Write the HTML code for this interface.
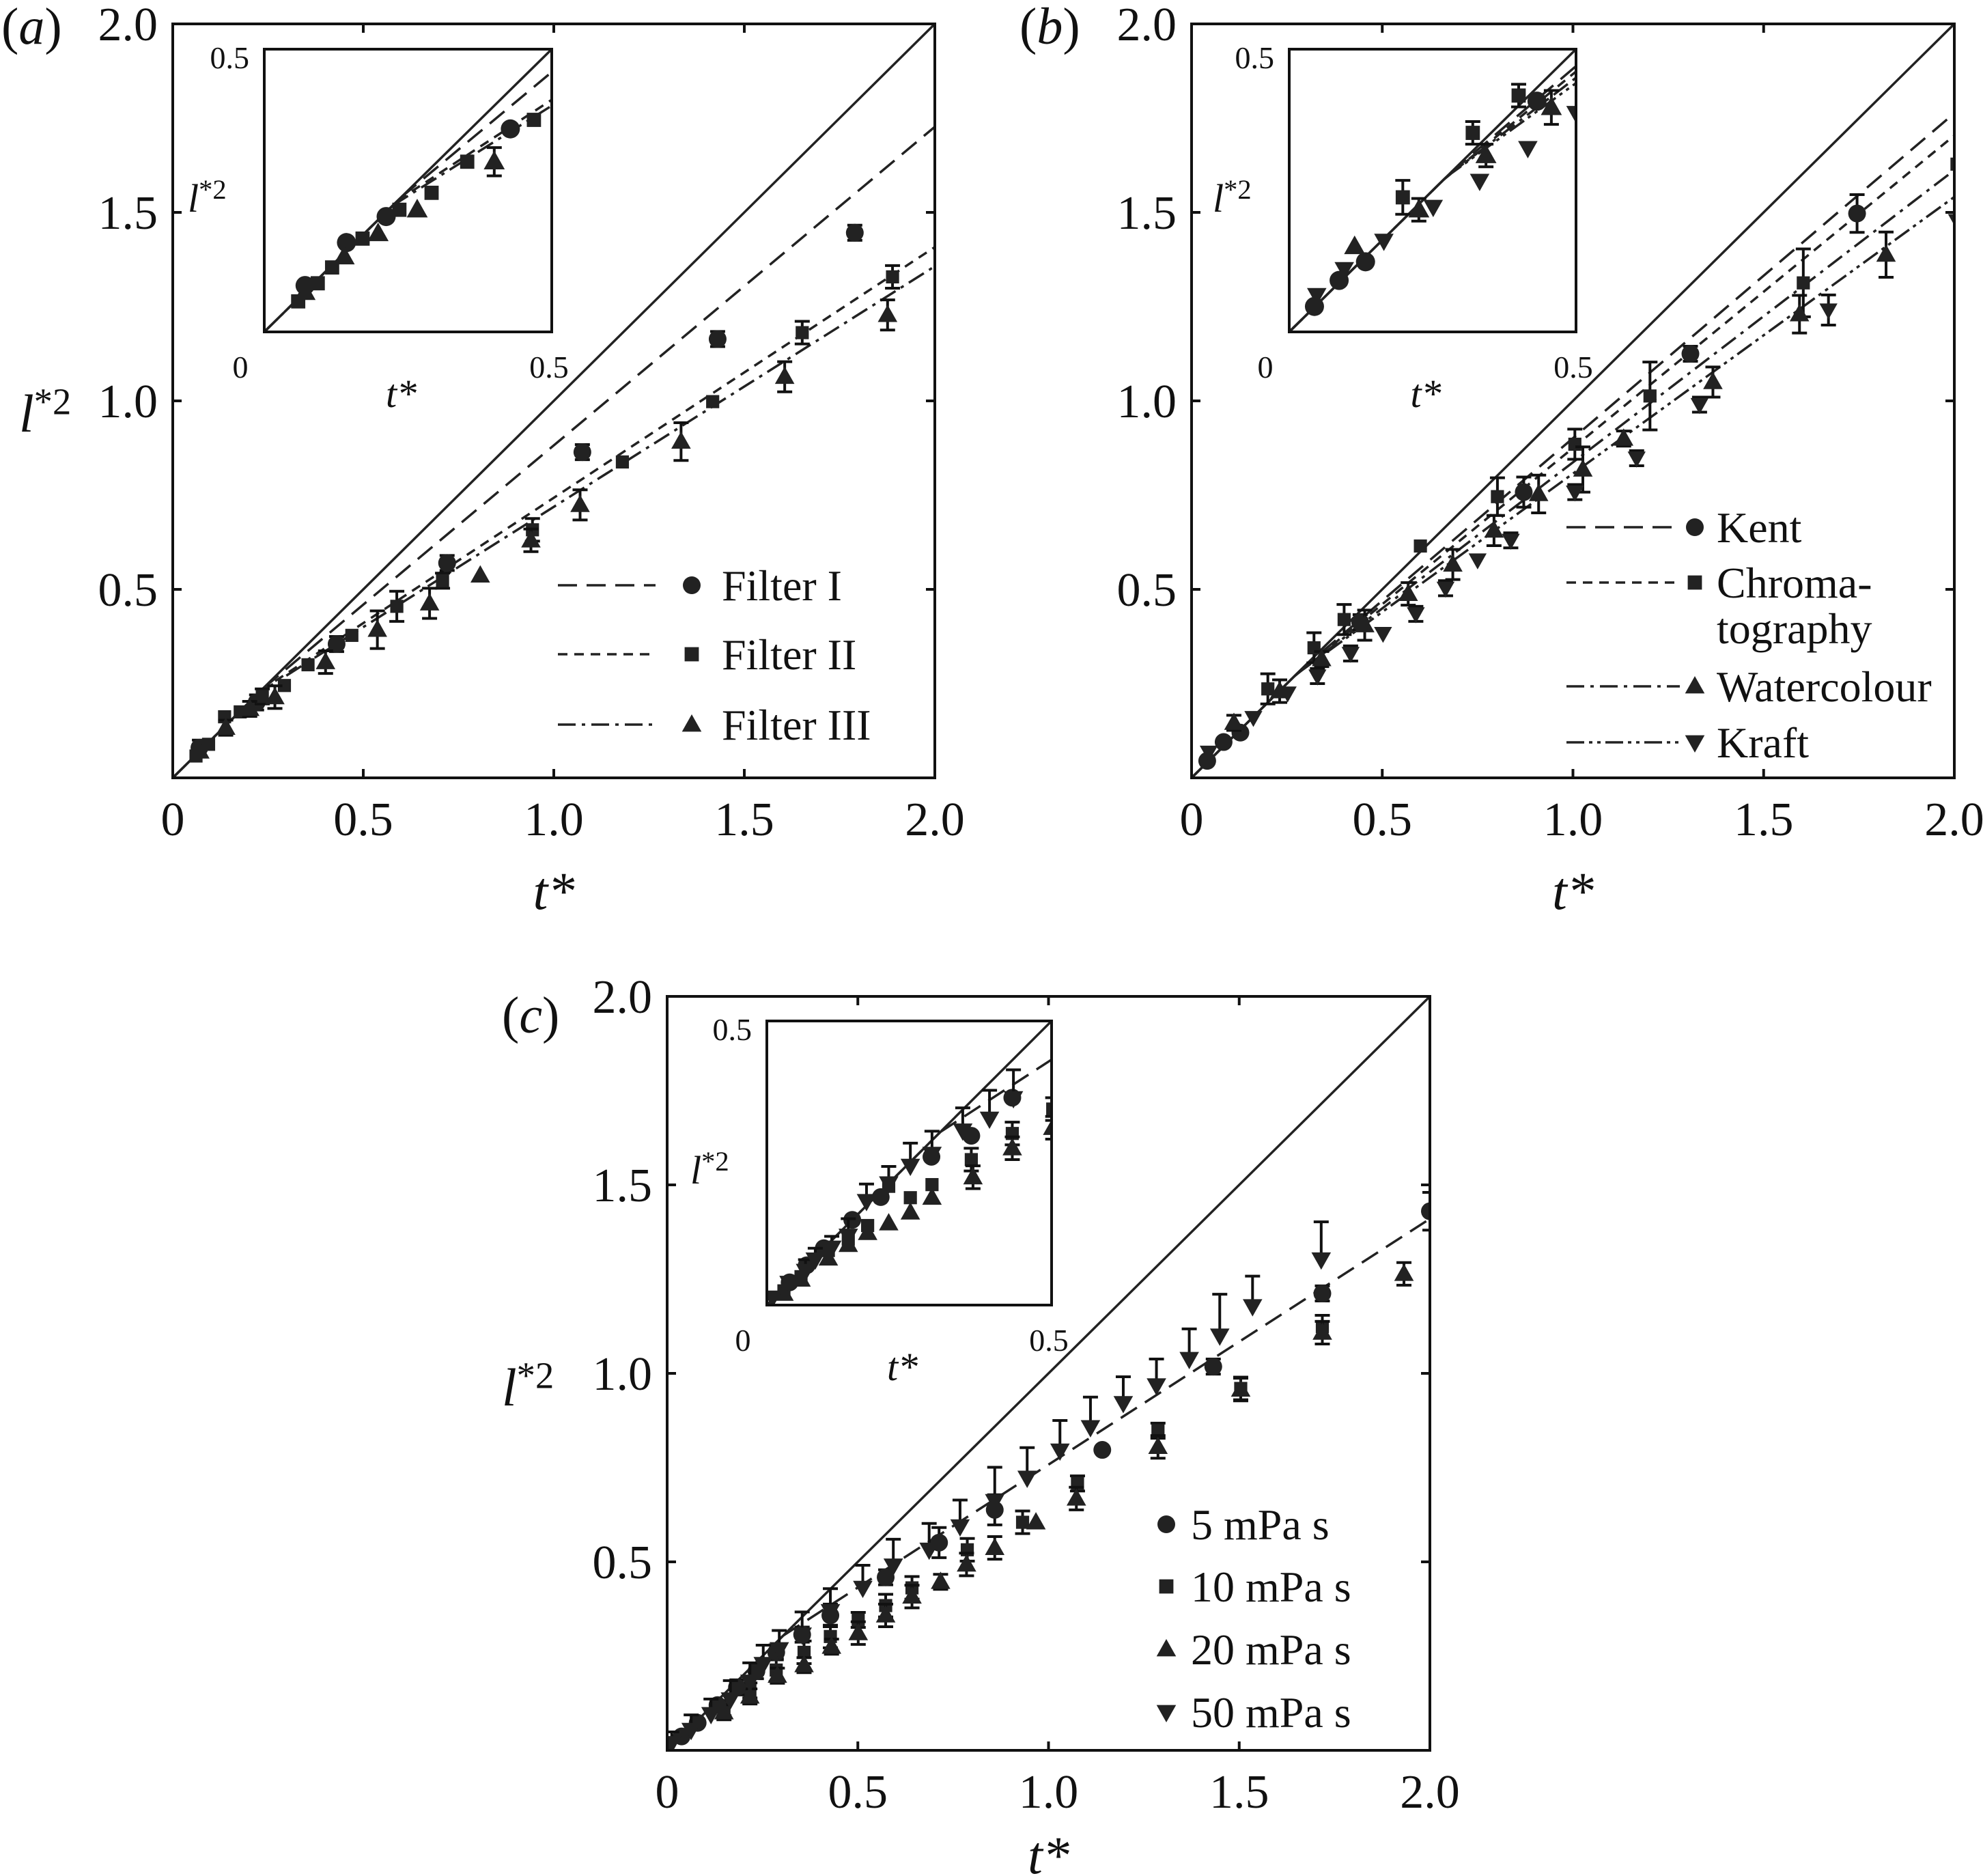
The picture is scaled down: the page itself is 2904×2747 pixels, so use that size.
<!DOCTYPE html>
<html><head><meta charset="utf-8"><style>
html,body{margin:0;padding:0;background:#fff;}
svg{display:block;}
text{font-family:"Liberation Serif","Times New Roman",serif;fill:#111;}
</style></head><body>
<svg id="fig" width="2904" height="2747" viewBox="0 0 2904 2747" xmlns="http://www.w3.org/2000/svg"></svg>
<script>
// ---------- Panel (a) data ----------
const aTicks=["0","0.5","1.0","1.5","2.0"];
const aTickVals=[0,0.5,1.0,1.5,2.0];
const aF1x=[0.07,0.22,0.43,0.72,1.075,1.43,1.79];
const aF1y=[0.08,0.20,0.355,0.57,0.864,1.164,1.446];
const aF1e=[0.02,0.02,0.02,0.02,0.02,0.02,0.02];
const aF2x=[0.061,0.094,0.136,0.177,0.235,0.293,0.355,0.47,0.588,0.708,0.944,1.18,1.417,1.652,1.889];
const aF2y=[0.058,0.089,0.162,0.175,0.216,0.245,0.30,0.378,0.455,0.523,0.658,0.838,0.998,1.181,1.329];
const aF2e=[0.01,0.01,0.01,0.01,0.02,0.01,0.01,0.01,0.04,0.02,0.03,0.01,0.01,0.03,0.03];
const aF3x=[0.071,0.139,0.202,0.268,0.401,0.537,0.674,0.807,0.94,1.069,1.334,1.606,1.876];
const aF3y=[0.07,0.133,0.183,0.214,0.307,0.393,0.463,0.537,0.63,0.724,0.892,1.064,1.228];
const aF3e=[0.01,0.02,0.02,0.03,0.03,0.05,0.04,0.01,0.03,0.04,0.05,0.04,0.04];
const aFitA=[0.037,0.078,0.081];
const aFitB=[0.845,0.665,0.638];
const aInF1x=[0.071,0.143,0.212,0.428];
const aInF1y=[0.082,0.158,0.204,0.359];
const aInF2x=[0.059,0.093,0.118,0.171,0.235,0.291,0.353,0.469];
const aInF2y=[0.054,0.086,0.114,0.165,0.216,0.246,0.301,0.375];
const aInF3x=[0.071,0.139,0.198,0.266,0.40];
const aInF3y=[0.07,0.133,0.174,0.216,0.301];
// ---------- Panel (b) data ----------
const bKx=[0.041,0.084,0.128,0.442,0.871,1.308,1.745];
const bKy=[0.045,0.095,0.12,0.413,0.758,1.125,1.497];
const bKe=[0.01,0.01,0.01,0.02,0.04,0.02,0.05];
const bCx=[0.2,0.321,0.4,0.6,0.802,1.005,1.202,1.604,2.007];
const bCy=[0.236,0.345,0.42,0.615,0.746,0.885,1.013,1.313,1.628];
const bCe=[0.04,0.04,0.04,0.01,0.05,0.04,0.09,0.09,0.01];
const bWx=[0.111,0.231,0.341,0.454,0.568,0.685,0.793,0.91,1.026,1.133,1.367,1.594,1.821];
const bWy=[0.146,0.23,0.315,0.405,0.488,0.566,0.656,0.753,0.818,0.90,1.05,1.23,1.388];
const bWe=[0.02,0.03,0.02,0.04,0.03,0.04,0.04,0.05,0.06,0.02,0.04,0.05,0.06];
const bRx=[0.045,0.162,0.252,0.33,0.417,0.502,0.588,0.666,0.75,0.837,1.005,1.167,1.332,1.67,2.007];
const bRy=[0.068,0.16,0.225,0.27,0.33,0.383,0.435,0.503,0.578,0.63,0.758,0.848,0.99,1.241,1.478];
const bRe=[0.01,0.01,0.01,0.02,0.02,0.01,0.02,0.02,0.01,0.02,0.02,0.02,0.02,0.04,0.01];
const bFitA=[0.039,0.046,0.062,0.073];
const bFitB=[0.862,0.829,0.775,0.734];
const bInKx=[0.044,0.087,0.133,0.432];
const bInKy=[0.045,0.091,0.124,0.408];
const bInCx=[0.198,0.32,0.40];
const bInCy=[0.238,0.352,0.418];
const bInWx=[0.114,0.226,0.343,0.457];
const bInWy=[0.151,0.216,0.312,0.397];
const bInRx=[0.048,0.096,0.165,0.251,0.332,0.416,0.50];
const bInRy=[0.065,0.111,0.161,0.221,0.267,0.325,0.387];
// ---------- Panel (c) data ----------
const c5x=[0.038,0.08,0.132,0.183,0.234,0.286,0.354,0.428,0.573,0.713,0.859,1.141,1.432,1.718,2.0];
const c5y=[0.037,0.073,0.12,0.167,0.21,0.26,0.307,0.358,0.459,0.551,0.638,0.797,1.018,1.212,1.43];
const c5e=[0.01,0.01,0.01,0.02,0.02,0.02,0.02,0.03,0.02,0.04,0.04,0.01,0.02,0.02,0.05];
const c10x=[0.149,0.217,0.286,0.359,0.428,0.501,0.573,0.642,0.787,0.932,1.076,1.287,1.504,1.718];
const c10y=[0.112,0.159,0.213,0.26,0.302,0.346,0.384,0.431,0.532,0.605,0.708,0.848,0.96,1.124];
const c10e=[0.02,0.02,0.03,0.03,0.03,0.02,0.03,0.03,0.03,0.03,0.02,0.02,0.03,0.03];
const c20x=[0.149,0.217,0.289,0.359,0.431,0.501,0.573,0.642,0.717,0.785,0.859,0.967,1.073,1.287,1.504,1.718,1.932];
const c20y=[0.101,0.143,0.198,0.226,0.275,0.311,0.358,0.408,0.447,0.493,0.537,0.605,0.668,0.805,0.957,1.108,1.264];
const c20e=[0.02,0.02,0.02,0.02,0.02,0.03,0.03,0.03,0.02,0.03,0.03,0.01,0.03,0.03,0.03,0.03,0.03];
const c50x=[0.012,0.063,0.115,0.166,0.217,0.252,0.294,0.354,0.428,0.513,0.593,0.687,0.768,0.859,0.944,1.03,1.11,1.196,1.283,1.369,1.449,1.535,1.715];
const c50y=[0.019,0.054,0.096,0.135,0.182,0.229,0.268,0.307,0.369,0.431,0.49,0.532,0.594,0.661,0.723,0.795,0.857,0.921,0.968,1.038,1.10,1.178,1.302];
const c50e=[0.03,0.04,0.04,0.05,0.05,0.05,0.05,0.06,0.06,0.06,0.07,0.07,0.07,0.09,0.08,0.08,0.08,0.07,0.07,0.08,0.11,0.08,0.10];
const cFitA=[0.106];
const cFitB=[0.652];
const cIn5x=[0.04,0.07,0.10,0.15,0.20,0.289,0.359,0.431];
const cIn5y=[0.04,0.07,0.10,0.15,0.19,0.261,0.298,0.365];
const cIn10x=[0.03,0.06,0.108,0.143,0.177,0.214,0.252,0.29,0.359,0.431,0.502];
const cIn10y=[0.025,0.05,0.096,0.116,0.14,0.209,0.189,0.212,0.256,0.302,0.345];
const cIn20x=[0.03,0.06,0.108,0.143,0.177,0.214,0.252,0.29,0.362,0.431,0.502];
const cIn20y=[0.02,0.045,0.082,0.106,0.127,0.144,0.163,0.189,0.225,0.276,0.312];
const cIn50x=[0.01,0.039,0.068,0.085,0.114,0.143,0.175,0.214,0.252,0.29,0.344,0.391,0.433];
const cIn50y=[0.013,0.039,0.06,0.08,0.101,0.122,0.183,0.214,0.245,0.266,0.307,0.328,0.364];

const NS="http://www.w3.org/2000/svg";
const svg=document.getElementById('fig');
function el(tag,attrs,parent){const e=document.createElementNS(NS,tag);for(const k in attrs)e.setAttribute(k,attrs[k]);(parent||svg).appendChild(e);return e;}
function txt(s,x,y,size,anchor,parent,italic){const t=el('text',{x:x,y:y,'font-size':size,'text-anchor':anchor||'middle'},parent);if(italic)t.setAttribute('font-style','italic');t.textContent=s;return t;}
const DASH=["28 14","14 10","26 9 5 9","26 7 5 7 5 7"];

function marker(g,kind,x,y,r){
  let m;
  if(kind==='c') m=el('circle',{cx:x,cy:y,r:r,fill:'#222'},g);
  else if(kind==='s') m=el('rect',{x:x-r*0.8,y:y-r*0.8,width:r*1.6,height:r*1.6,fill:'#222'},g);
  else if(kind==='t') m=el('polygon',{points:`${x},${y-r*1.15} ${x-r*1.1},${y+r*0.8} ${x+r*1.1},${y+r*0.8}`,fill:'#222'},g);
  else m=el('polygon',{points:`${x},${y+r*1.15} ${x-r*1.1},${y-r*0.8} ${x+r*1.1},${y-r*0.8}`,fill:'#222'},g);
  return m;
}
function makeAxes(box,lo,hi){
  const sx=v=>box.x0+(v-lo)/(hi-lo)*(box.x1-box.x0);
  const sy=v=>box.y0-(v-lo)/(hi-lo)*(box.y0-box.y1);
  return {sx,sy};
}
function drawSeries(g,ax,xs,ys,errs,kind,r,name,upOnly){
  for(let i=0;i<xs.length;i++){
    const px=ax.sx(xs[i]),py=ax.sy(ys[i]);
    if(errs&&errs[i]>0.015){
      const e=errs[i];
      const top=ax.sy(ys[i]+e),bot=upOnly?py:ax.sy(ys[i]-e);
      const eb=el('path',{d:`M${px},${top}V${bot}M${px-11},${top}H${px+11}`+(upOnly?'':`M${px-11},${bot}H${px+11}`),stroke:'#111','stroke-width':4,fill:'none'},g);
      
      
    }
    const m=marker(g,kind,px,py,r);
    
    
  }
}
function fitLine(g,ax,a,b,dash,xmax,name){
  const xs=a/(1-b);
  const l=el('line',{x1:ax.sx(0),y1:ax.sy(0),x2:ax.sx(xs),y2:ax.sy(xs),stroke:'#222','stroke-width':3.5,'stroke-dasharray':dash},g);
  const l2=el('line',{x1:ax.sx(xs),y1:ax.sy(xs),x2:ax.sx(xmax),y2:ax.sy(a+b*xmax),stroke:'#222','stroke-width':3.5,'stroke-dasharray':dash},g);
  
  
}
let clipN=0;
function frame(box,lo,hi,name){
  const g=el('g',{});
  
  
  el('rect',{x:box.x0,y:box.y1,width:box.x1-box.x0,height:box.y0-box.y1,fill:'#fff',stroke:'none'},g);
  const id='clip'+(clipN++);
  const cp=el('clipPath',{id:id},g);
  el('rect',{x:box.x0,y:box.y1,width:box.x1-box.x0,height:box.y0-box.y1},cp);
  const inner=el('g',{'clip-path':`url(#${id})`},g);
  const ax=makeAxes(box,lo,hi);
  const diag=el('line',{x1:ax.sx(lo),y1:ax.sy(lo),x2:ax.sx(hi),y2:ax.sy(hi),stroke:'#222','stroke-width':3.5},inner);
  
  
  return {g,inner,ax};
}
function border(g,box,w){
  const b=el('rect',{x:box.x0,y:box.y1,width:box.x1-box.x0,height:box.y0-box.y1,fill:'none',stroke:'#111','stroke-width':w},g);
  
  
}
function mainTicks(g,box,ax,titleOff){
  for(let i=0;i<aTickVals.length;i++){
    const v=aTickVals[i];
    if(v>0&&v<2){
      el('path',{d:`M${ax.sx(v)},${box.y0}v-13M${ax.sx(v)},${box.y1}v13M${box.x0},${ax.sy(v)}h13M${box.x1},${ax.sy(v)}h-13`,stroke:'#111','stroke-width':4},g);
    }
    const tx=txt(aTicks[i],ax.sx(v),box.y0+84,70,'middle',g);
    
    if(v>0){const ty=txt(aTicks[i],box.x0-22,ax.sy(v)+24,70,'end',g);
      }
  }
  const xt=txt('t*',(box.x0+box.x1)/2,box.y0+(titleOff||192),78,'middle',g,true);
  
}
function yTitle(x,y,size,parent){
  const t=el('text',{x:x,y:y,'font-size':size,'text-anchor':'start','font-style':'italic'},parent);
  
  t.appendChild(document.createTextNode('l'));
  const s=el('tspan',{'font-style':'normal','font-size':size*0.7,dy:-size*0.33},t);s.textContent='*2';
  return t;
}
function insetLabels(g,box){
  const a=txt('0.5',box.x0-22,box.y1+28,46,'end',g);
  const b=txt('0',box.x0-35,box.y0+67,46,'middle',g);
  const c=txt('0.5',box.x1-4,box.y0+67,46,'middle',g);
  const d=txt('t*',(box.x0+box.x1)/2-10,box.y0+110,58,'middle',g,true);
  yTitle(box.x0-112,box.y1+238,58,g);
}
function panelLabel(s,x,y){const t=el('text',{x:x,y:y,'font-size':76,'text-anchor':'start'});
  t.appendChild(document.createTextNode('('));const i=el('tspan',{'font-style':'italic'},t);i.textContent=s;t.appendChild(document.createTextNode(')'));}
function legendRow(g,dash,kind,lx0,lx1,mx,tx,y,label,name){
  const r=el('g',{},g);
  if(dash!==null) el('line',{x1:lx0,y1:y,x2:lx1,y2:y,stroke:'#222','stroke-width':3.5,'stroke-dasharray':dash},r);
  marker(r,kind,mx,y,13);
  if(label) txt(label,tx,y+22,64,'start',r);
}

// ===== Panel A =====
(function(){
  const box={x0:253,x1:1369,y0:1139,y1:35};
  const P=frame(box,0,2,'panel-a-plot');
  for(let k=0;k<3;k++) fitLine(P.inner,P.ax,aFitA[k],aFitB[k],DASH[k],2.05,'fit-filter-'+(k+1));
  drawSeries(P.inner,P.ax,aF1x,aF1y,aF1e,'c',13,'filter-i');
  drawSeries(P.inner,P.ax,aF2x,aF2y,aF2e,'s',12,'filter-ii');
  drawSeries(P.inner,P.ax,aF3x,aF3y,aF3e,'t',13,'filter-iii');
  border(P.g,box,4);
  mainTicks(P.g,box,P.ax);
  yTitle(28,632,78,P.g);
  panelLabel('a',2,64);
  const L=el('g',{});
  legendRow(L,DASH[0],'c',817,960,1013,1057,857,'Filter I','legend-filter-i');
  legendRow(L,DASH[1],'s',817,960,1013,1057,958,'Filter II','legend-filter-ii');
  legendRow(L,DASH[2],'t',817,960,1013,1057,1061,'Filter III','legend-filter-iii');
  const ib={x0:387,x1:808,y0:486,y1:72};
  const I=frame(ib,0,0.5,'panel-a-inset');
  for(let k=0;k<3;k++) fitLine(I.inner,I.ax,aFitA[k],aFitB[k],DASH[k],0.52,'inset-fit-filter-'+(k+1));
  drawSeries(I.inner,I.ax,aInF1x,aInF1y,[0,0,0.01,0.01],'c',14,'inset-filter-i');
  drawSeries(I.inner,I.ax,aInF2x,aInF2y,null,'s',13,'inset-filter-ii');
  drawSeries(I.inner,I.ax,aInF3x,aInF3y,[0.01,0.01,0.01,0.01,0.025],'t',14,'inset-filter-iii');
  border(I.g,ib,4);
  insetLabels(P.g,ib);
})();

// ===== Panel B =====
(function(){
  const box={x0:1745,x1:2862,y0:1139,y1:35};
  const P=frame(box,0,2,'panel-b-plot');
  for(let k=0;k<4;k++) fitLine(P.inner,P.ax,bFitA[k],bFitB[k],DASH[k],2.05,'fit-b-'+k);
  drawSeries(P.inner,P.ax,bKx,bKy,bKe,'c',13,'kent');
  drawSeries(P.inner,P.ax,bCx,bCy,bCe,'s',12,'chromatography');
  drawSeries(P.inner,P.ax,bWx,bWy,bWe,'t',13,'watercolour');
  drawSeries(P.inner,P.ax,bRx,bRy,bRe,'d',12,'kraft');
  border(P.g,box,4);
  mainTicks(P.g,box,P.ax);
  panelLabel('b',1493,64);
  const L=el('g',{});
  legendRow(L,DASH[0],'c',2294,2460,2482,2514,772,'Kent','legend-kent');
  legendRow(L,DASH[1],'s',2294,2460,2482,2514,853,'Chroma-','legend-chromatography');
  const t2=txt('tography',2514,942,64,'start',L);
  legendRow(L,DASH[2],'t',2294,2460,2482,2514,1005,'Watercolour','legend-watercolour');
  legendRow(L,DASH[3],'d',2294,2460,2482,2514,1087,'Kraft','legend-kraft');
  const ib={x0:1888,x1:2308,y0:486,y1:72};
  const I=frame(ib,0,0.5,'panel-b-inset');
  for(let k=0;k<4;k++) fitLine(I.inner,I.ax,bFitA[k],bFitB[k],DASH[k],0.52,'inset-fit-b-'+k);
  drawSeries(I.inner,I.ax,bInKx,bInKy,[0,0.01,0.01,0.01],'c',14,'inset-kent');
  drawSeries(I.inner,I.ax,bInCx,bInCy,[0.03,0.02,0.02],'s',13,'inset-chromatography');
  drawSeries(I.inner,I.ax,bInWx,bInWy,[0.01,0.02,0.02,0.03],'t',14,'inset-watercolour');
  drawSeries(I.inner,I.ax,bInRx,bInRy,null,'d',13,'inset-kraft');
  border(I.g,ib,4);
  insetLabels(P.g,ib);
})();

// ===== Panel C =====
(function(){
  const box={x0:977,x1:2094,y0:2563,y1:1459};
  const P=frame(box,0,2,'panel-c-plot');
  fitLine(P.inner,P.ax,cFitA[0],cFitB[0],DASH[0],2.05,'fit-c');
  drawSeries(P.inner,P.ax,c10x,c10y,c10e,'s',12,'visc-10');
  drawSeries(P.inner,P.ax,c20x,c20y,c20e,'t',13,'visc-20');
  drawSeries(P.inner,P.ax,c5x,c5y,c5e,'c',13,'visc-5');
  drawSeries(P.inner,P.ax,c50x,c50y,c50e,'d',13,'visc-50',true);
  border(P.g,box,4);
  mainTicks(P.g,box,P.ax,180);
  yTitle(735,2058,78,P.g);
  panelLabel('c',735,1512);
  const L=el('g',{});
  legendRow(L,null,'c',0,0,1708,1744,2232,'5 mPa s','legend-5mpas');
  legendRow(L,null,'s',0,0,1708,1744,2323,'10 mPa s','legend-10mpas');
  legendRow(L,null,'t',0,0,1708,1744,2415,'20 mPa s','legend-20mpas');
  legendRow(L,null,'d',0,0,1708,1744,2507,'50 mPa s','legend-50mpas');
  const ib={x0:1123,x1:1540,y0:1911,y1:1495};
  const I=frame(ib,0,0.5,'panel-c-inset');
  fitLine(I.inner,I.ax,cFitA[0],cFitB[0],DASH[0],0.52,'inset-fit-c');
  drawSeries(I.inner,I.ax,cIn10x,cIn10y,[0,0,0.01,0.01,0.01,0.01,0.01,0.01,0.02,0.02,0.02],'s',12,'inset-visc-10');
  drawSeries(I.inner,I.ax,cIn20x,cIn20y,[0,0,0.01,0.01,0.01,0.01,0.01,0.01,0.02,0.02,0.02],'t',13,'inset-visc-20');
  drawSeries(I.inner,I.ax,cIn5x,cIn5y,null,'c',13,'inset-visc-5');
  drawSeries(I.inner,I.ax,cIn50x,cIn50y,[0,0.01,0.02,0.02,0.02,0.03,0.03,0.03,0.04,0.04,0.04,0.05,0.05],'d',13,'inset-visc-50',true);
  border(I.g,ib,4);
  insetLabels(P.g,ib);
})();
</script>
</body></html>
